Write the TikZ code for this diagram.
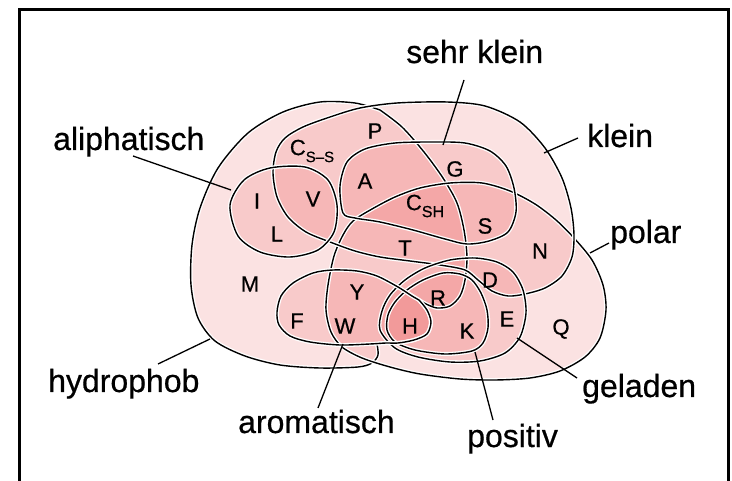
\documentclass[tikz,border=0pt]{standalone}
\usepackage{fontspec}
\setmainfont{Liberation Sans}
\newfontfamily\heavysans[FakeBold=0.6]{Liberation Sans}
\definecolor{setpink}{RGB}{235,100,100}
\tikzset{
  setfill/.style={fill=setpink, fill opacity=0.19},
  outline/.style={draw=black, line width=1.4pt, line join=round, preaction={draw=white, line width=4pt}},
  lbl/.style={font=\heavysans\fontsize{32}{32}\selectfont, inner sep=0pt, anchor=base west},
  aa/.style={font=\heavysans\fontsize{22}{22}\selectfont, inner sep=0pt},
  leader/.style={draw=black, line width=1.3pt},
}
% set shapes
\newcommand\shapeHY[1]{\path[#1]
  plot[smooth] coordinates {(380,110) (402,127) (424,152) (443,178) (457,203) (464,230) (467,257) (465,280) (460,296) (450,306) (437,308) (426,304) (419,300)}
  -- plot[smooth] coordinates {(419,300) (427,310) (431,322) (427,334) (414,340) (398,343) (386,343) (377,344)}
  -- plot[smooth] coordinates {(377,344) (378,355) (372,363) (358,367) (320,368) (280,365) (245,356) (215,341) (198,318) (191,285) (192,245) (200,208) (218,168) (248,133) (283,112) (320,102) (355,103) (380,110)} -- cycle;}
\newcommand\shapePO[1]{\path[#1]
  plot[smooth cycle] coordinates {(353,221) (372,209) (395,197) (420,188) (450,183) (482,183) (510,191) (535,204) (556,220) (574,238) (592,260) (603,285) (606,310) (600,338) (585,357) (560,371) (530,378) (495,380) (460,379) (420,374) (390,367) (362,358) (342,347) (331,332) (326,310) (328,285) (334,256) (343,235)};}
\newcommand\shapeKL[1]{\path[#1]
  plot[smooth cycle] coordinates {(273,173) (276,152) (285,138) (303,127) (330,117) (360,108) (397,103) (447,102) (485,106) (520,122) (545,148) (562,178) (571,208) (574,235) (572,257) (562,276) (545,288) (525,294) (508,296) (492,291) (478,280) (465,270) (440,265) (410,261) (380,257) (355,251) (330,242) (306,232) (288,217) (277,197)};}
\newcommand\shapeSK[1]{\path[#1]
  plot[smooth cycle] coordinates {(343,213) (340,186) (347,162) (365,149) (395,143) (433,142) (465,143) (490,151) (506,166) (514,188) (516,212) (508,232) (489,241) (467,244) (445,239) (413,230) (380,222) (355,218)};}
\newcommand\shapeAL[1]{\path[#1]
  plot[smooth cycle] coordinates {(230,205) (244,180) (270,168) (305,167) (328,180) (337,205) (334,232) (318,250) (290,257) (260,252) (238,236)};}
\newcommand\shapeAR[1]{\path[#1]
  plot[smooth] coordinates {(419,300) (427,310) (431,322) (427,334) (414,340) (398,343) (386,343) (370,344) (340,345) (310,342) (290,336) (279,325) (277,312) (281,296) (293,283) (313,273) (333,270) (357,271) (377,276) (398,287) (412,296) (419,300)} -- cycle;}
\newcommand\shapePOS[1]{\path[#1]
  plot[smooth cycle] coordinates {(387,330) (388,315) (395,302) (407,290) (423,280) (443,273) (460,274) (472,280) (481,293) (487,310) (488,328) (483,343) (472,351) (445,354) (415,350) (395,342)};}
\newcommand\shapeCH[1]{\path[#1]
  plot[smooth cycle] coordinates {(380,330) (382,311) (390,295) (405,280) (425,268) (450,260) (475,258) (497,262) (513,272) (523,290) (526,313) (520,337) (505,353) (480,361) (450,362) (418,357) (395,348)};}
\begin{document}
\begin{tikzpicture}[x=1pt,y=-1pt]
\useasboundingbox (0,0) rectangle (732,481);
% fills
\shapeHY{setfill}
\shapePO{setfill}
\shapeKL{setfill}
\shapeSK{setfill}
\shapeAL{setfill}
\shapeAR{setfill}
\shapeCH{setfill}
\shapePOS{setfill}
% outlines
\shapeHY{outline}
\shapePO{outline}
\shapeKL{outline}
\shapeSK{outline}
\shapeAL{outline}
\shapeCH{outline}
\shapePOS{outline}
\shapeAR{outline}
% amino acid letters
\node[aa] (lP) at (375,131) {P};
\node[aa] (lCss) at (312,151) {C\raisebox{-7pt}{\fontsize{15}{15}\selectfont S–S}};
\node[aa] (lA) at (365,181) {A};
\node[aa] (lG) at (455,169) {G};
\node[aa] (lI) at (257,201) {I};
\node[aa] (lV) at (313,199) {V};
\node[aa] (lL) at (277,234) {L};
\node[aa] (lCsh) at (425,206) {C\raisebox{-7pt}{\fontsize{16}{16}\selectfont SH}};
\node[aa] (lS) at (485,226) {S};
\node[aa] (lT) at (405,248) {T};
\node[aa] (lN) at (540,251) {N};
\node[aa] (lM) at (250,284) {M};
\node[aa] (lY) at (357,292) {Y};
\node[aa] (lD) at (490,280) {D};
\node[aa] (lR) at (438,298) {R};
\node[aa] (lF) at (297,321) {F};
\node[aa] (lW) at (345,326) {W};
\node[aa] (lH) at (410,326) {H};
\node[aa] (lK) at (467,331) {K};
\node[aa] (lE) at (507,319) {E};
\node[aa] (lQ) at (561,329) {Q};
% labels
\node[lbl] (tSK) at (406,63) {sehr klein};
\node[lbl] (tKL) at (587,147) {klein};
\node[lbl] (tPO) at (610,243) {polar};
\node[lbl] (tAL) at (53,150) {aliphatisch};
\node[lbl] (tHY) at (48,392) {hydrophob};
\node[lbl] (tAR) at (238,433) {aromatisch};
\node[lbl] (tPS) at (467,447) {positiv};
\node[lbl] (tGE) at (582,397) {geladen};
% leader lines
\coordinate (sk1) at (464,80);  \coordinate (sk2) at (443,145);
\coordinate (kl1) at (578,138); \coordinate (kl2) at (544,153);
\coordinate (po1) at (609,243); \coordinate (po2) at (590,253);
\coordinate (al1) at (133,156); \coordinate (al2) at (231,190);
\coordinate (hy1) at (158,364); \coordinate (hy2) at (210,339);
\coordinate (ar1) at (318,408); \coordinate (ar2) at (343,344);
\coordinate (ps1) at (493,420); \coordinate (ps2) at (475,352);
\coordinate (ge1) at (577,378); \coordinate (ge2) at (517,338);
\draw[leader] (sk1) -- (sk2);
\draw[leader] (kl1) -- (kl2);
\draw[leader] (po1) -- (po2);
\draw[leader] (al1) -- (al2);
\draw[leader] (hy1) -- (hy2);
\draw[leader] (ar1) -- (ar2);
\draw[leader] (ps1) -- (ps2);
\draw[leader] (ge1) -- (ge2);
% frame
\draw[line width=3pt] (19,495) -- (19,10) -- (728,10) -- (728,495);
\end{tikzpicture}
\end{document}
